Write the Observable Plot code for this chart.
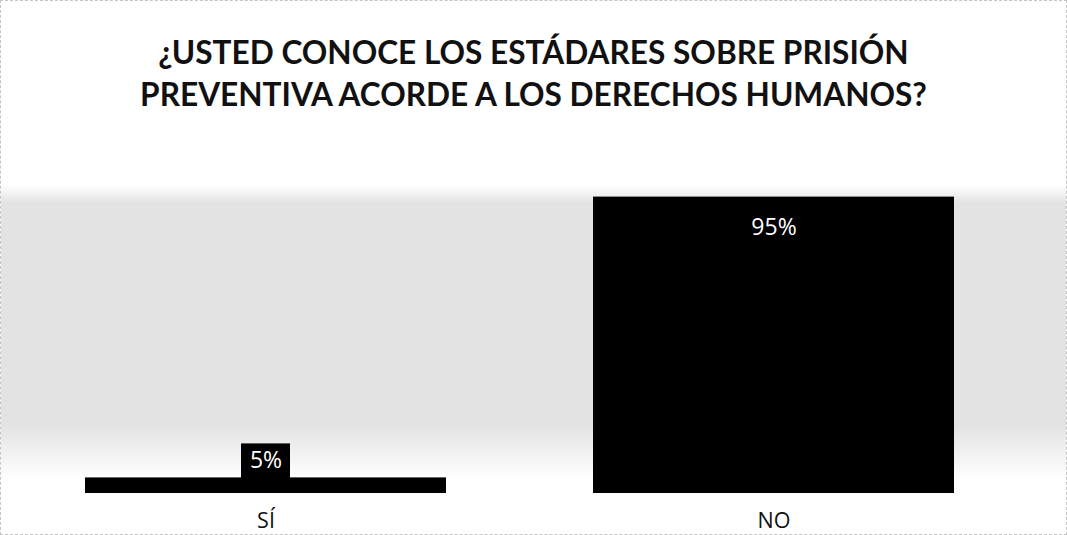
<!DOCTYPE html>
<html>
<head>
<meta charset="utf-8">
<script src="https://cdn.jsdelivr.net/npm/d3@7"></script>
<script src="https://cdn.jsdelivr.net/npm/@observablehq/plot@0.6"></script>
<style>
  html, body { margin: 0; padding: 0; background: #fff; }
  #wrap { position: relative; width: 1067px; height: 535px; box-sizing: border-box; border: 1px dashed #c4c4c4; overflow: hidden; }
  #speckle { position: absolute; left: 0; right: 0; top: 184px; height: 295px;
    background: linear-gradient(to bottom, rgba(225,225,225,0) 0px, #e3e3e3 18px, #e3e3e3 240px, rgba(225,225,225,0) 295px); }
  #title { position: relative; text-align: center; font-family: Lato, "Open Sans", sans-serif; font-weight: 700;
    font-size: 31.6px; line-height: 42px; color: #111; padding-top: 30px; height: 100px; }
  #chart { position: relative; }
</style>
</head>
<body>
<div id="wrap">
  <div id="speckle"></div>
  <div id="title">¿USTED CONOCE LOS ESTÁDARES SOBRE PRISIÓN<br>PREVENTIVA ACORDE A LOS DERECHOS HUMANOS?</div>
  <div id="chart"></div>
</div>
<script>
const categories = ["SÍ", "NO"];
const values = [5, 95];
const labels = ["5%", "95%"];

const data = categories.map((c, i) => ({category: c, value: values[i], label: labels[i]}));
const small = data.filter(d => d.value < 50);
const large = data.filter(d => d.value >= 50);

const chart = Plot.plot({
  width: 1065,
  height: 403,
  marginLeft: 33,
  marginRight: 61,
  marginTop: 50,
  marginBottom: 41,
  style: {background: "transparent", fontFamily: "'Open Sans', sans-serif", overflow: "visible"},
  x: {domain: categories, paddingInner: 0.289, paddingOuter: 0.1, label: null},
  y: {domain: [0, 100], axis: null},
  marks: [
    Plot.barY(data, {x: "category", y: "value", fill: "#000"}),
    Plot.barY(small, {x: "category", y: "value", fill: "#000", insetLeft: 156, insetRight: 156, insetTop: -34}),
    Plot.text(small, {x: "category", y: "value", text: "label", fill: "#fff", fontSize: 23, dy: -17}),
    Plot.text(large, {x: "category", y: "value", text: "label", fill: "#fff", fontSize: 23, dy: 31}),
    Plot.axisX({tickSize: 0, tickPadding: 19, fontSize: 21.5, color: "#111", label: null})
  ]
});
document.getElementById("chart").appendChild(chart);
</script>
</body>
</html>
